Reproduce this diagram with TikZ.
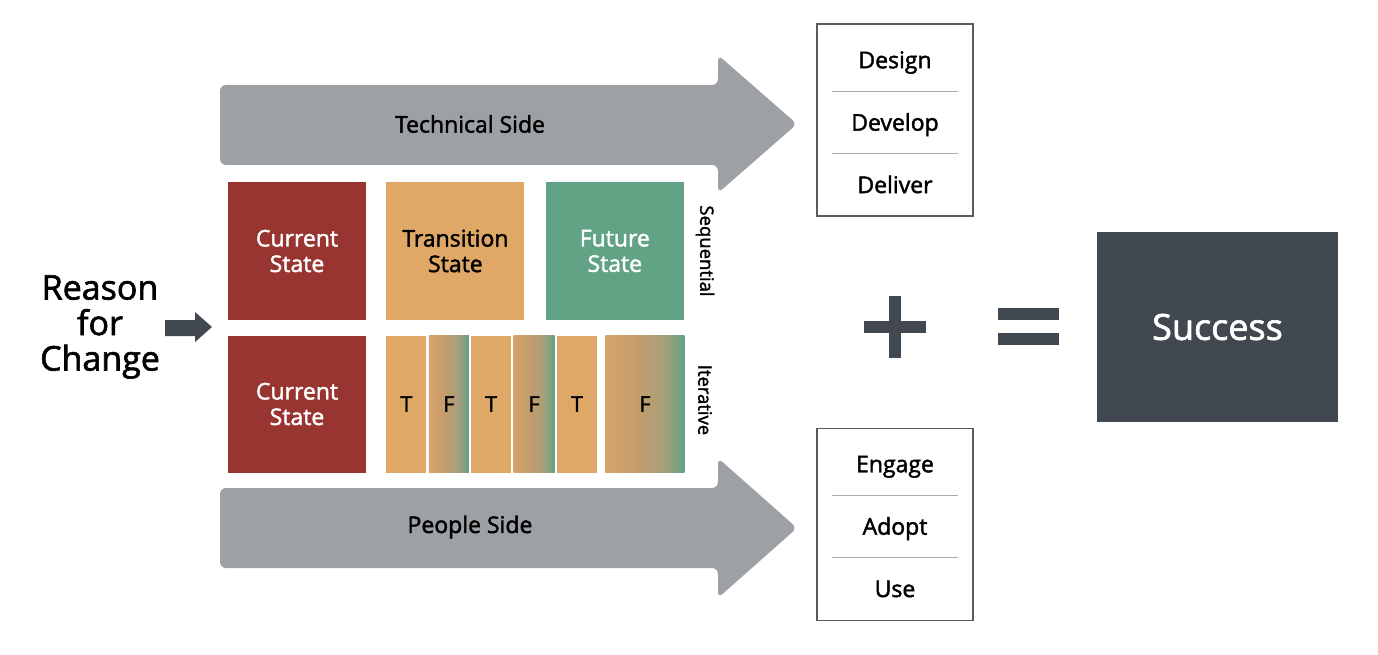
\documentclass[tikz,border=0pt]{standalone}
\usepackage{fontspec}
\setmainfont{Open Sans}[FakeBold=1.8]
\newfontfamily\semifont{Open Sans}[FakeBold=1.8]
\usetikzlibrary{positioning}
\definecolor{cmred}{HTML}{983530}
\definecolor{cmorange}{HTML}{E0A866}
\definecolor{cmgreen}{HTML}{62A285}
\definecolor{cmtanl}{HTML}{D6A36A}
\definecolor{cmtan}{HTML}{C49C6C}
\definecolor{cmolive}{HTML}{A6A07C}
\definecolor{cmgrey}{HTML}{9DA1A5}
\definecolor{cmslate}{HTML}{414850}
\definecolor{cmrule}{HTML}{A9ABAD}
\definecolor{cmframe}{HTML}{555B62}
\pgfdeclarehorizontalshading{tfshade}{100bp}{color(0bp)=(cmtanl); color(25bp)=(cmtanl);
  color(45bp)=(cmtan); color(62bp)=(cmolive); color(75bp)=(cmgreen); color(100bp)=(cmgreen)}

\begin{document}
\begin{tikzpicture}[
  x=1pt, y=-1pt,
  font=\semifont,
  statebox/.style={minimum width=138pt, minimum height=138pt, inner sep=0pt,
                   align=center, text=white, font=\semifont\fontsize{23}{25.5}\selectfont},
  tstrip/.style={fill=cmorange, minimum width=40pt, minimum height=137pt,
                 inner sep=0pt, font=\semifont\fontsize{21.5}{24}\selectfont},
  fstrip/.style={tstrip, shading=tfshade},
  sidelbl/.style={inner sep=1pt, font=\semifont\fontsize{23}{26}\selectfont},
  modelbl/.style={rotate=-90, inner sep=1pt, font=\semifont\fontsize{18.5}{20}\selectfont},
  listbox/.style={draw=cmframe, line width=1.4pt, minimum width=156pt,
                  minimum height=192pt, inner sep=0pt},
  listitem/.style={minimum width=126pt, minimum height=62pt, inner sep=0pt,
                   text height=16.5pt, text depth=0pt,
                   font=\semifont\fontsize{23}{26}\selectfont},
  sepline/.style={draw=cmrule, line width=0.9pt},
]
\useasboundingbox (0,0) rectangle (1378,655);

% the two sides
\fill[cmgrey, rounded corners=6pt] (220,85) -- (718,85) -- (718,55) -- (797,124)
  -- (718,193) -- (718,165) -- (220,165) -- cycle;
\node[sidelbl] (tech) at (470,124) {Technical Side};
\fill[cmgrey, rounded corners=6pt] (220,488) -- (718,488) -- (718,458) -- (797,528)
  -- (718,598) -- (718,568) -- (220,568) -- cycle;
\node[sidelbl] (people) at (470,527) {People Side};

% reason for change
\node[align=center, font=\semifont\fontsize{34}{35.5}\selectfont] (reason) at (100,327)
  {Reason\\for\\Change};
\fill[cmslate] (165,320) -- (195,320) -- (195,312) -- (212,327) -- (195,342)
  -- (195,336) -- (165,336) -- cycle;

% sequential
\node[statebox, fill=cmred] (cur1) at (297,251) {Current\\State};
\node[statebox, fill=cmorange, text=black, right=20pt of cur1] (trans) {Transition\\State};
\node[statebox, fill=cmgreen, right=21pt of trans] (future) {Future\\State};
\node[modelbl] (seq) at (705,251) {Sequential};

% iterative
\node[statebox, fill=cmred, minimum height=137pt] (cur2) at (297,404) {Current\\State};
\node[tstrip, right=20pt of cur2] (t1) {T};
\node[fstrip, right=2pt of t1] (f1) {F};
\node[tstrip, right=2pt of f1] (t2) {T};
\node[fstrip, minimum width=41pt, right=2pt of t2] (f2) {F};
\node[tstrip, right=2pt of f2] (t3) {T};
\node[fstrip, minimum width=79pt, right=8pt of t3] (f3) {F};
\node[modelbl] (iter) at (705,400) {Iterative};

% technical list
\node[listbox] (techbox) at (895,120) {};
\node[listitem] (design) at (895,60) {Design};
\node[listitem, below=0pt of design] (develop) {Develop};
\node[listitem, below=0pt of develop] (deliver) {Deliver};
\draw[sepline] (design.south west) -- (design.south east);
\draw[sepline] (develop.south west) -- (develop.south east);

% people list
\node[listbox] (peoplebox) at (895,524.5) {};
\node[listitem] (engage) at (895,464) {Engage};
\node[listitem, below=0pt of engage] (adopt) {Adopt};
\node[listitem, below=0pt of adopt] (use) {Use};
\draw[sepline] (engage.south west) -- (engage.south east);
\draw[sepline] (adopt.south west) -- (adopt.south east);

% plus, equals, result
\fill[cmslate] (889,296) rectangle (901,358);
\fill[cmslate] (864,321) rectangle (926,333);
\fill[cmslate] (998,308) rectangle (1059,320);
\fill[cmslate] (998,333) rectangle (1059,345);
\node[fill=cmslate, minimum width=241pt, minimum height=190pt, text=white,
  font=\semifont\fontsize{36}{40}\selectfont] (success) at (1217.5,327) {Success};
\end{tikzpicture}
\end{document}
